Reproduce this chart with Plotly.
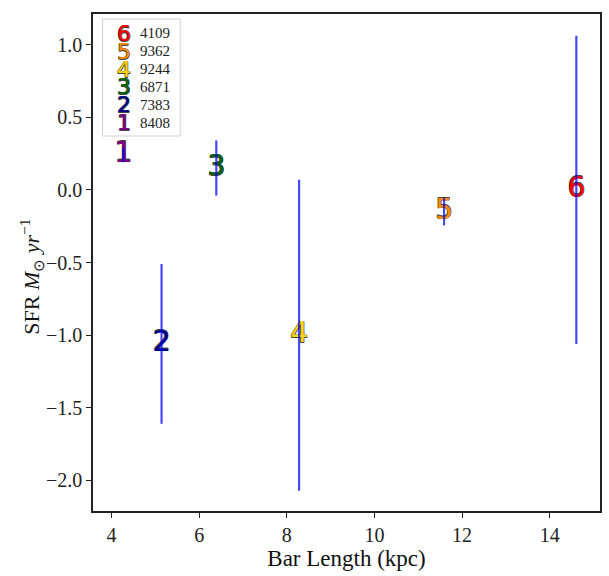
import plotly.graph_objects as go

# Data
ids = ["1", "2", "3", "4", "5", "6"]
names = ["8408", "7383", "6871", "9244", "9362", "4109"]
bar_length = [4.27, 5.14, 6.39, 8.28, 11.59, 14.61]
sfr = [0.24, -1.06, 0.15, -1.0, -0.15, 0.0]
sfr_err = [0.05, 0.55, 0.19, 1.07, 0.095, 1.06]
colors = ["#800080", "#00008B", "#006400", "#FFD700", "#FF8C00", "#FF0000"]

outline = "0.5px 0.5px 0 #444, -0.5px -0.5px 0 #444, 0.5px -0.5px 0 #444, -0.5px 0.5px 0 #444"

fig = go.Figure()

fig.add_trace(go.Scatter(
    x=bar_length, y=sfr, mode="text", text=ids,
    textposition="middle center",
    textfont=dict(family="DejaVu Sans", size=28, color=colors, shadow=outline),
    showlegend=False, hoverinfo="skip", cliponaxis=False,
))

fig.add_trace(go.Scatter(
    x=bar_length, y=sfr, mode="markers",
    marker=dict(size=1, opacity=0),
    error_y=dict(type="data", array=sfr_err, visible=True, width=0,
                 thickness=2.2, color="rgba(0,0,255,0.72)"),
    showlegend=False, hoverinfo="skip",
))

# Custom legend (digit glyph samples like the original)
L, R, T, B = 93.5, 602.0, 14.0, 511.0
def px(xp):
    return (xp - L) / (R - L)
def py(yp):
    return (B - yp) / (B - T)

fig.add_shape(type="rect", xref="paper", yref="paper",
              x0=px(103), x1=px(181), y0=py(136), y1=py(19),
              line=dict(color="#d0d0d0", width=1), fillcolor="rgba(255,255,255,0.85)")

row0 = 33.5
step = 17.8
for k in range(len(ids)):
    i = len(ids) - 1 - k
    yy = row0 + step * k
    fig.add_annotation(xref="paper", yref="paper", x=px(125), y=py(yy),
                       text=ids[i], showarrow=False, xanchor="center", yanchor="middle",
                       font=dict(family="DejaVu Sans", size=22, color=colors[i], shadow=outline))
    fig.add_annotation(xref="paper", yref="paper", x=px(139), y=py(yy),
                       text=names[i], showarrow=False, xanchor="left", yanchor="middle",
                       font=dict(family="Liberation Serif", size=15, color="#222"))

# y-axis title
fig.add_annotation(xref="paper", yref="paper", x=px(31), y=py(277),
                   text="SFR <i>M</i><sub>\u2299</sub> <i>yr</i><sup>\u22121</sup>",
                   textangle=-90, showarrow=False, xanchor="center", yanchor="middle",
                   font=dict(family="Liberation Serif", size=22, color="#111"))

axis_common = dict(showgrid=False, zeroline=False, showline=True, linecolor="#222",
                   linewidth=1.5, mirror=True, ticks="outside", ticklen=5, tickwidth=1.2,
                   tickcolor="#222", tickfont=dict(family="Liberation Serif", size=20, color="#222"))

fig.update_xaxes(range=[3.575, 15.15], tickvals=[4, 6, 8, 10, 12, 14],
                 title=dict(text="Bar Length (kpc)", font=dict(family="Liberation Serif", size=23, color="#111"),
                            standoff=2),
                 **axis_common)
fig.update_yaxes(range=[-2.21, 1.21], tickvals=[1.0, 0.5, 0.0, -0.5, -1.0, -1.5, -2.0],
                 ticktext=["1.0", "0.5", "0.0", "\u22120.5", "\u22121.0", "\u22121.5", "\u22122.0"],
                 **axis_common)

fig.update_layout(width=609, height=576, margin=dict(l=93, r=7, t=14, b=65),
                  plot_bgcolor="white", paper_bgcolor="white", showlegend=False)

fig.write_html("out.html")
